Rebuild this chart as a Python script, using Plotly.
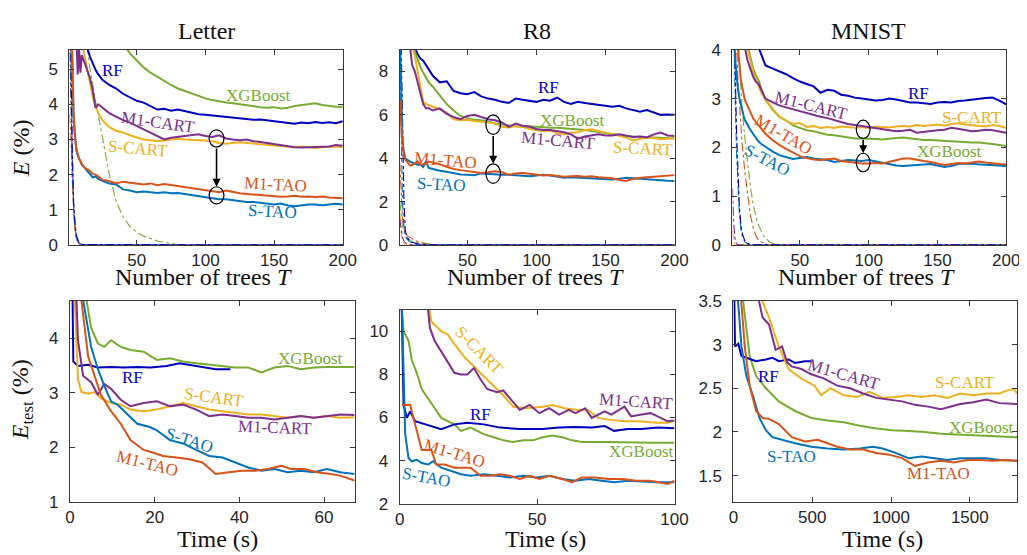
import plotly.graph_objects as go

W, H = 1027, 555

# ---------------- colours ----------------
C_RF, C_XGB, C_SCART, C_M1CART, C_STAO, C_M1TAO = "#0000bf", "#77ac30", "#edb120", "#7e2f8e", "#0072bd", "#d95319"

# ================= TOP ROW: error vs number of trees =================
trees = [1, 2, 3, 4, 5, 6, 7, 8, 9, 10, 12, 14, 16, 18, 20, 22, 25,
         30, 35, 40, 45, 50, 55, 60, 65, 70, 75, 80, 85, 90, 95, 100, 105, 110, 115, 120,
         125, 130, 135, 140, 145, 150, 155, 160, 165, 170, 175, 180, 185, 190, 195, 200]

# ---- Letter (test error) ----
letter_rf = [14, 13, 12, 11, 10.5, 10, 9.5, 9, 8.5, 8, 6.8, 5.6, 5.35, 5.15, 4.98, 4.85, 4.7,
             4.55, 4.45, 4.3, 4.2, 4.1, 4.05, 3.95, 3.85, 3.87, 3.82, 3.85, 3.8, 3.76, 3.72, 3.7, 3.68,
             3.65, 3.63, 3.62, 3.6, 3.58, 3.56, 3.57, 3.55, 3.52, 3.5, 3.47, 3.45, 3.48, 3.46, 3.5, 3.47,
             3.49, 3.46, 3.52]
letter_xgb = [16, 15, 14, 13.5, 13, 12.5, 12, 11.5, 11, 10.5, 10, 9.5, 9, 8.6, 8.2, 7.8, 7.3,
              6.5, 6.1, 5.75, 5.45, 5.25, 5.05, 4.9, 4.78, 4.65, 4.55, 4.45, 4.38, 4.3, 4.22, 4.17, 4.12,
              4.08, 4.05, 4.03, 4.0, 3.97, 3.93, 3.92, 3.9, 3.92, 3.88, 3.9, 3.95, 3.97, 4.0, 4.03, 3.98,
              3.95, 3.93, 3.93]
letter_scart = [14, 12, 11, 10, 9, 8.2, 7.5, 6.8, 6.2, 5.8, 5.4, 5.0, 4.6, 4.2, 3.95, 3.75, 3.55,
                3.35, 3.25, 3.2, 3.12, 3.07, 3.0, 2.98, 2.95, 2.97, 3.0, 3.02, 3.0, 3.0, 2.98, 2.97, 2.95,
                2.9, 2.88, 2.9, 2.92, 2.9, 2.88, 2.87, 2.85, 2.83, 2.82, 2.8, 2.78, 2.8, 2.78, 2.76, 2.78,
                2.8, 2.8, 2.78]
letter_m1cart = [12, 10, 8.5, 7.5, 6.8, 6.0, 4.85, 5.6, 4.9, 5.4, 5.2, 5.0, 4.75, 4.4, 3.9, 4.0, 3.9,
                 3.75, 3.65, 3.55, 3.48, 3.38, 3.3, 3.2, 3.1, 3.0, 3.05, 3.08, 3.1, 3.12, 3.15, 3.1, 3.07,
                 3.12, 3.03, 3.0, 2.98, 3.0, 2.95, 2.93, 2.9, 2.88, 2.85, 2.8, 2.78, 2.77, 2.78, 2.77, 2.78,
                 2.8, 2.84, 2.82]
letter_m1tao = [9, 6.5, 5.6, 3.8, 3.1, 2.75, 2.6, 2.45, 2.4, 2.3, 2.2, 2.15, 2.1, 2.02, 2.0, 1.95, 1.85,
                1.82, 1.75, 1.8, 1.78, 1.75, 1.72, 1.75, 1.7, 1.73, 1.7, 1.68, 1.65, 1.62, 1.6, 1.55, 1.52,
                1.5, 1.55, 1.5, 1.47, 1.45, 1.43, 1.42, 1.4, 1.38, 1.37, 1.38, 1.4, 1.37, 1.38, 1.36, 1.38,
                1.35, 1.33, 1.33]
letter_stao = [10, 7, 5.2, 3.6, 3.0, 2.7, 2.55, 2.45, 2.35, 2.28, 2.2, 2.1, 2.0, 1.92, 1.95, 1.88, 1.82,
               1.75, 1.72, 1.58, 1.55, 1.5, 1.52, 1.5, 1.48, 1.5, 1.47, 1.48, 1.45, 1.42, 1.4, 1.38, 1.35,
               1.3, 1.3, 1.27, 1.25, 1.22, 1.22, 1.2, 1.18, 1.15, 1.18, 1.12, 1.1, 1.13, 1.15, 1.15, 1.13,
               1.15, 1.17, 1.15]
# Letter training error (dash-dot)
letter_tr_T = [1, 2, 3, 4, 5, 6, 7, 8, 10, 12, 200]
letter_tr_rf = [9, 5.5, 2.8, 1.3, 0.6, 0.28, 0.13, 0.06, 0.02, 0.01, 0]
letter_tr_stao = [7, 4.6, 2.4, 1.1, 0.5, 0.22, 0.1, 0.04, 0.01, 0, 0]
letter_tr_m1tao = [3.7, 3.2, 1.9, 0.95, 0.45, 0.2, 0.09, 0.04, 0.01, 0, 0]
letter_tr_m1cart = [6, 4.2, 2.1, 1.0, 0.45, 0.2, 0.08, 0.03, 0.01, 0, 0]
letter_tr_scart = [8, 5, 2.5, 1.15, 0.5, 0.22, 0.1, 0.05, 0.01, 0, 0]
letter_tr_xgb_T = [1, 4, 8, 12, 14, 16, 18, 20, 22, 25, 30, 35, 40, 45, 50, 55, 60, 65, 70, 75, 80, 90, 200]
letter_tr_xgb = [20, 14.5, 9.5, 6.8, 5.6, 5.0, 4.5, 4.1, 3.7, 3.1, 2.0, 1.25, 0.8, 0.52, 0.36, 0.25, 0.17,
                 0.11, 0.07, 0.03, 0.01, 0, 0]

# ---- R8 (test error) ----
r8_rf = [16, 15, 14, 13, 12.5, 12, 11.5, 11, 10.5, 10, 9.1, 8.8, 8.6, 8.5, 8.3, 8.1, 7.8,
         7.5, 7.55, 7.1, 7.0, 6.95, 7.05, 6.85, 6.75, 6.7, 6.6, 6.55, 6.75, 6.7, 6.65, 6.6, 6.7,
         6.65, 6.8, 6.6, 6.5, 6.6, 6.55, 6.5, 6.45, 6.4, 6.38, 6.42, 6.3, 6.22, 6.15, 6.22, 6.1,
         6.0, 6.02, 6.0]
r8_xgb = [16, 15, 14, 13, 12, 11.5, 11, 10.5, 10, 9.3, 8.9, 8.5, 8.2, 7.95, 7.7, 7.5, 7.3,
          6.9, 6.5, 6.2, 5.95, 5.85, 5.77, 5.75, 5.7, 5.6, 5.55, 5.5, 5.48, 5.45, 5.48, 5.45, 5.42,
          5.4, 5.4, 5.38, 5.35, 5.33, 5.3, 5.25, 5.2, 5.15, 5.1, 5.05, 5.03, 5.0, 5.0, 4.98, 4.96,
          4.95, 4.93, 4.91]
r8_scart = [14, 13, 12.5, 12, 11.5, 11, 10.5, 10, 9.6, 9.2, 8.7, 8.0, 7.3, 6.6, 6.5, 6.45, 6.4,
            6.25, 6.1, 5.8, 5.75, 5.77, 5.72, 5.7, 5.65, 5.6, 5.45, 5.42, 5.48, 5.45, 5.35, 5.3, 5.25,
            5.28, 5.15, 5.1, 5.18, 5.2, 5.3, 5.33, 5.25, 5.18, 5.1, 5.03, 4.95, 4.82, 4.9, 4.96, 4.92,
            4.88, 4.9, 4.96]
r8_m1cart = [14, 13, 12, 11.5, 11, 10.5, 10, 9.4, 8.8, 8.3, 8.0, 7.5, 7.0, 6.5, 6.3, 6.3, 6.2,
             6.3, 6.05, 5.9, 5.8, 5.95, 6.0, 5.9, 5.8, 5.75, 5.65, 5.45, 5.6, 5.5, 5.45, 5.35, 5.3,
             5.3, 5.25, 5.2, 5.1, 4.9, 5.0, 5.05, 5.1, 5.05, 5.05, 5.1, 5.05, 4.98, 5.0, 4.96, 5.1,
             5.18, 5.05, 5.03]
r8_m1tao = [6.7, 5.5, 4.6, 4.2, 3.95, 3.85, 3.75, 3.7, 3.65, 3.7, 3.75, 3.85, 3.7, 3.72, 3.75, 3.85, 3.8,
            3.72, 3.6, 3.5, 3.45, 3.4, 3.38, 3.32, 3.35, 3.4, 3.35, 3.24, 3.3, 3.32, 3.28, 3.24, 3.2,
            3.22, 3.17, 3.15, 3.17, 3.18, 3.15, 3.17, 3.12, 3.1, 3.08, 3.0, 2.95, 3.05, 3.1, 3.12, 3.15,
            3.17, 3.2, 3.22]
r8_stao = [10, 7, 4.8, 4.3, 4.0, 3.95, 3.9, 3.85, 3.82, 3.8, 3.75, 3.7, 3.7, 3.6, 3.85, 3.55, 3.5,
           3.42, 3.38, 3.3, 3.25, 3.24, 3.22, 3.3, 3.28, 3.24, 3.24, 3.24, 3.22, 3.2, 3.17, 3.2, 3.24,
           3.2, 3.15, 3.1, 3.12, 3.1, 3.1, 3.08, 3.05, 3.04, 3.02, 3.05, 3.1, 3.08, 3.05, 3.02, 3.0,
           2.98, 2.96, 2.95]
r8_tr_T = [1, 2, 3, 4, 5, 6, 8, 10, 14, 18, 22, 26, 30, 200]
r8_tr_rf = [10, 9.5, 6.0, 2.2, 0.7, 0.4, 0.2, 0.12, 0.05, 0.02, 0.01, 0, 0, 0]
r8_tr_stao = [9.5, 5.0, 2.0, 0.9, 0.45, 0.3, 0.15, 0.08, 0.02, 0, 0, 0, 0, 0]
r8_tr_m1tao = [3.8, 2.4, 1.3, 0.8, 0.55, 0.45, 0.35, 0.28, 0.15, 0.08, 0.03, 0.01, 0, 0]
r8_tr_xgb = [2.0, 1.3, 0.9, 0.6, 0.45, 0.35, 0.22, 0.16, 0.1, 0.06, 0.03, 0.01, 0, 0]
r8_tr_m1cart = [1.2, 0.7, 0.35, 0.18, 0.08, 0.04, 0.01, 0, 0, 0, 0, 0, 0, 0]
r8_tr_scart = [1.5, 0.6, 0.2, 0.08, 0.03, 0.01, 0, 0, 0, 0, 0, 0, 0, 0]

# ---- MNIST (test error) ----
mn_rf = [14, 12, 11, 10, 9, 8.2, 7.6, 7, 6.5, 6.1, 5.5, 5.0, 4.6, 4.3, 4.05, 3.9, 3.68,
         3.62, 3.56, 3.5, 3.42, 3.35, 3.3, 3.25, 3.12, 3.18, 3.16, 3.08, 3.06, 3.02, 3.0, 2.98, 2.96,
         2.97, 3.0, 2.98, 2.95, 2.92, 2.92, 2.9, 2.89, 2.92, 2.93, 2.92, 2.95, 2.96, 2.98, 2.99, 3.01,
         3.02, 2.96, 2.88]
mn_m1cart = [10, 9, 8, 7, 6.3, 5.7, 5.2, 4.8, 4.4, 4.05, 3.78, 3.6, 3.45, 3.35, 3.3, 3.18, 3.0,
             2.93, 2.86, 2.82, 2.78, 2.75, 2.7, 2.66, 2.63, 2.6, 2.56, 2.52, 2.48, 2.46, 2.44, 2.42, 2.4,
             2.38, 2.36, 2.33, 2.34, 2.36, 2.3, 2.32, 2.33, 2.35, 2.36, 2.4, 2.38, 2.35, 2.33, 2.34, 2.36,
             2.35, 2.32, 2.3]
mn_scart = [10, 9, 8, 7.2, 6.5, 5.9, 5.4, 5.0, 4.6, 4.3, 4.0, 3.75, 3.55, 3.4, 3.25, 3.12, 2.98,
            2.8, 2.63, 2.55, 2.48, 2.5, 2.42, 2.44, 2.4, 2.42, 2.4, 2.43, 2.41, 2.4, 2.42, 2.4, 2.43,
            2.42, 2.41, 2.43, 2.44, 2.43, 2.46, 2.44, 2.46, 2.47, 2.45, 2.48, 2.5, 2.47, 2.46, 2.44, 2.43,
            2.46, 2.44, 2.4]
mn_xgb = [12, 10, 9, 8, 7.2, 6.5, 5.9, 5.4, 5.0, 4.6, 4.1, 3.85, 3.62, 3.48, 3.38, 3.2, 2.98,
          2.78, 2.63, 2.55, 2.45, 2.4, 2.35, 2.33, 2.3, 2.26, 2.25, 2.23, 2.2, 2.18, 2.18, 2.18, 2.17,
          2.16, 2.18, 2.19, 2.2, 2.18, 2.17, 2.15, 2.15, 2.14, 2.13, 2.13, 2.12, 2.11, 2.1, 2.1, 2.09,
          2.07, 2.05, 2.03]
mn_m1tao = [9, 6.5, 5, 4.3, 3.95, 3.65, 3.42, 3.25, 3.1, 2.98, 2.85, 2.72, 2.6, 2.52, 2.45, 2.38, 2.28,
            2.15, 2.05, 1.97, 1.9, 1.82, 1.78, 1.75, 1.74, 1.76, 1.77, 1.72, 1.7, 1.69, 1.67, 1.67, 1.68,
            1.67, 1.7, 1.74, 1.77, 1.77, 1.74, 1.72, 1.7, 1.67, 1.64, 1.66, 1.68, 1.67, 1.69, 1.71, 1.69,
            1.67, 1.66, 1.65]
mn_stao = [7, 4.5, 3.8, 3.45, 3.2, 3.02, 2.88, 2.76, 2.66, 2.56, 2.45, 2.36, 2.28, 2.2, 2.12, 2.07, 2.01,
           1.92, 1.84, 1.8, 1.76, 1.78, 1.8, 1.77, 1.76, 1.74, 1.7, 1.72, 1.74, 1.73, 1.72, 1.74, 1.71,
           1.68, 1.65, 1.63, 1.62, 1.63, 1.64, 1.65, 1.66, 1.63, 1.6, 1.62, 1.66, 1.67, 1.66, 1.66, 1.65,
           1.64, 1.63, 1.62]
mn_tr_T = [1, 2, 3, 4, 5, 6, 7, 8, 10, 12, 14, 16, 18, 20, 24, 28, 32, 36, 200]
mn_tr_rf = [8, 5.5, 3.6, 2.3, 1.4, 0.8, 0.45, 0.25, 0.08, 0.03, 0.01, 0, 0, 0, 0, 0, 0, 0, 0]
mn_tr_stao = [6, 4.3, 3.0, 1.9, 1.15, 0.65, 0.35, 0.2, 0.06, 0.02, 0, 0, 0, 0, 0, 0, 0, 0, 0]
mn_tr_m1tao = [8, 6.5, 5.2, 4.1, 3.4, 2.9, 2.45, 2.1, 1.5, 1.0, 0.62, 0.36, 0.19, 0.1, 0.03, 0, 0, 0, 0]
mn_tr_xgb = [10, 8, 6.5, 5.2, 4.4, 3.8, 3.25, 2.8, 2.2, 1.65, 1.2, 0.85, 0.58, 0.4, 0.17, 0.06, 0.02, 0, 0]
mn_tr_m1cart = [1.15, 0.4, 0.1, 0.02, 0, 0, 0, 0, 0, 0, 0, 0, 0, 0, 0, 0, 0, 0, 0]
mn_tr_scart = [0.3, 0.05, 0, 0, 0, 0, 0, 0, 0, 0, 0, 0, 0, 0, 0, 0, 0, 0, 0]

# ================= BOTTOM ROW: test error vs time =================
# Letter
lt_xgb_t = [3, 3.9, 5, 6.6, 8.1, 9.7, 12, 14.3, 17.4, 20.5, 23.6, 26.7, 29.8, 32.9, 36, 39, 42.1, 45.2, 48.3, 51.4, 54.5, 57.6, 60.7, 63.8, 67.2]
lt_xgb_e = [6, 4.7, 4.19, 3.9, 3.84, 3.96, 3.84, 3.78, 3.75, 3.6, 3.63, 3.57, 3.54, 3.51, 3.49, 3.46, 3.46, 3.37, 3.46, 3.49, 3.43, 3.46, 3.47, 3.47, 3.47]
lt_rf_t = [0.5, 0.8, 1.9, 4.3, 6.6, 9.7, 12.8, 15.9, 19, 22.8, 25.9, 28.2, 31.3, 34.4, 37.9]
lt_rf_e = [5.5, 3.57, 3.49, 3.51, 3.46, 3.47, 3.46, 3.47, 3.46, 3.49, 3.54, 3.51, 3.46, 3.43, 3.43]
lt_scart_t = [1.0, 1.9, 2.7, 4.3, 5.8, 7.3, 9.7, 12, 14.3, 17.4, 20.5, 23.6, 26.7, 29.8, 32.9, 36, 39, 42.1, 45.2, 48.3, 51.4, 54.5, 57.6, 60.7, 63.8, 67.2]
lt_scart_e = [5.0, 3.25, 3.01, 2.98, 3.01, 2.9, 2.81, 2.78, 2.69, 2.66, 2.69, 2.75, 2.81, 2.75, 2.69, 2.66, 2.63, 2.6, 2.6, 2.57, 2.54, 2.57, 2.54, 2.57, 2.54, 2.55]
lt_m1cart_t = [1.4, 1.9, 3.1, 5, 6.6, 8.1, 9.7, 12, 14.3, 17.4, 20.5, 23.6, 26.7, 29.8, 32.9, 36, 39, 42.1, 45.2, 48.3, 51.4, 54.5, 57.6, 60.7, 63.8, 67.2]
lt_m1cart_e = [5.0, 3.96, 3.31, 3.19, 2.96, 3.16, 3.07, 2.87, 2.75, 2.81, 2.84, 2.75, 2.78, 2.69, 2.57, 2.6, 2.57, 2.54, 2.54, 2.51, 2.54, 2.57, 2.54, 2.57, 2.6, 2.59]
lt_stao_t = [2.8, 3.1, 5, 6.6, 8.1, 9.7, 11.2, 12.8, 14.3, 15.9, 18.9, 20.5, 23.6, 26.7, 29.8, 32.9, 36, 39, 42.1, 45.2, 48.3, 51.4, 54.5, 57.6, 60.7, 63.8, 67.2]
lt_stao_e = [5.0, 4.7, 3.84, 3.43, 3.13, 2.84, 2.78, 2.66, 2.54, 2.43, 2.37, 2.31, 2.13, 2.07, 1.95, 1.84, 1.81, 1.72, 1.63, 1.57, 1.6, 1.54, 1.57, 1.54, 1.6, 1.54, 1.51]
lt_m1tao_t = [2.4, 2.7, 4.3, 5.8, 7.3, 9.7, 12, 14.3, 17.4, 19.7, 22, 25.1, 28.2, 31.3, 34.4, 37.5, 40.6, 43.7, 46.8, 49.9, 52.2, 55.3, 58.4, 61.5, 63.8, 67.2]
lt_m1tao_e = [5.0, 4.7, 3.66, 3.31, 2.96, 2.66, 2.43, 2.13, 1.95, 1.9, 1.84, 1.81, 1.78, 1.72, 1.51, 1.54, 1.57, 1.57, 1.6, 1.66, 1.6, 1.6, 1.54, 1.51, 1.48, 1.39]

# R8
rt_xgb_t = [0.2, 1.4, 3.2, 4.4, 6.2, 8, 10.4, 12.7, 15.1, 17.5, 19.9, 22.3, 25.8, 28.2, 30.6, 34.2, 37.7, 41.3, 44.9, 48.5, 52, 55.6, 59.2, 62.7, 66.3, 75.8, 85, 92, 100]
rt_xgb_e = [12, 10.0, 9.56, 8.66, 8.07, 7.32, 6.87, 6.43, 5.98, 5.83, 5.68, 5.38, 5.53, 5.38, 5.23, 5.08, 4.94, 4.86, 4.94, 4.94, 5.08, 5.16, 5.08, 4.94, 4.86, 4.86, 4.83, 4.83, 4.83]
rt_rf_t = [0.6, 1.4, 2.6, 3.8, 5.6, 9.2, 11.5, 15.1, 19.9, 24.6, 30.6, 36.5, 43.7, 52, 58, 64, 70, 74.6, 78, 83, 88, 94, 100]
rt_rf_e = [12, 6.58, 5.98, 6.28, 5.83, 5.68, 5.6, 5.46, 5.68, 5.76, 5.68, 5.53, 5.46, 5.46, 5.53, 5.56, 5.53, 5.6, 5.38, 5.46, 5.46, 5.53, 5.5]
rt_scart_t = [9.5, 11.5, 15.1, 17.5, 19.9, 23.5, 27, 30.6, 34.2, 37.7, 41.3, 46, 52, 55.6, 60, 65.1, 68.5, 72.3, 76, 81.8, 87, 93.7, 97.3, 100]
rt_scart_e = [12, 10.45, 10.0, 9.85, 9.4, 8.81, 8.36, 7.92, 7.47, 7.02, 6.5, 6.43, 6.5, 6.58, 6.43, 6.35, 6.35, 5.98, 5.9, 5.83, 5.83, 5.76, 5.76, 5.83]
rt_m1cart_t = [9.5, 11, 12.7, 16.3, 19.9, 22.3, 24.6, 27, 29.4, 31.8, 35.4, 37.7, 40.1, 43.7, 47.3, 50.8, 54.4, 58, 61.5, 64, 67.5, 69.9, 74.6, 77, 81.8, 84.2, 87.5, 91.3, 95, 97.4, 100]
rt_m1cart_e = [12, 10.15, 9.56, 8.81, 8.07, 7.99, 7.99, 8.29, 7.77, 7.32, 7.17, 7.25, 6.87, 6.35, 6.58, 6.2, 6.43, 6.13, 6.35, 6.2, 6.43, 5.98, 6.28, 6.13, 6.5, 6.05, 6.13, 6.2, 5.98, 5.83, 5.86]
rt_m1tao_t = [0.8, 3.8, 5.6, 8, 11.5, 13.3, 16.3, 19.9, 25.8, 29.4, 32.9, 36.5, 40.1, 43.7, 47.3, 50.8, 54.4, 59.2, 62.7, 66.3, 71, 76, 81, 86, 91, 95, 97.6, 100]
rt_m1tao_e = [6.58, 6.58, 5.68, 4.49, 4.49, 3.82, 3.82, 3.67, 3.67, 3.3, 3.3, 3.37, 3.3, 3.15, 3.3, 3.15, 3.3, 3.15, 3.0, 3.22, 3.22, 3.15, 3.15, 3.07, 3.07, 3.0, 2.92, 3.07]
rt_stao_t = [0.6, 2, 3.2, 4.4, 6.2, 8, 10.4, 12.1, 15.1, 18.7, 22.3, 25.8, 30.6, 35.4, 40.1, 44.9, 49.6, 54.4, 59.2, 63.9, 68.7, 73.5, 78.2, 83, 87.7, 93.7, 100]
rt_stao_e = [12, 5.23, 4.12, 3.97, 4.04, 3.89, 3.82, 3.97, 3.67, 3.52, 3.37, 3.3, 3.37, 3.3, 3.22, 3.3, 3.22, 3.3, 3.15, 3.07, 3.15, 3.07, 3.0, 3.07, 3.03, 3.0, 3.0]

# MNIST
mt_rf_t = [5, 10, 31, 51, 82, 144, 206, 247, 288, 350, 391, 453, 494]
mt_rf_e = [3.6, 2.98, 3.01, 2.87, 2.85, 2.81, 2.83, 2.85, 2.81, 2.83, 2.79, 2.81, 2.81]
mt_m1cart_t = [150, 185, 226, 268, 309, 340, 370, 432, 494, 576, 659, 741, 823, 906, 988, 1070, 1152, 1235, 1317, 1379, 1440, 1523, 1605, 1688, 1800]
mt_m1cart_e = [3.6, 3.31, 3.23, 2.94, 2.98, 2.8, 2.75, 2.72, 2.66, 2.61, 2.53, 2.5, 2.44, 2.39, 2.37, 2.35, 2.31, 2.29, 2.26, 2.29, 2.32, 2.34, 2.37, 2.33, 2.32]
mt_scart_t = [160, 226, 288, 350, 432, 515, 556, 617, 700, 782, 864, 947, 1029, 1111, 1194, 1276, 1358, 1440, 1523, 1605, 1688, 1729, 1780, 1800]
mt_scart_e = [3.6, 3.31, 2.98, 2.72, 2.61, 2.53, 2.42, 2.5, 2.42, 2.4, 2.46, 2.39, 2.4, 2.42, 2.4, 2.42, 2.39, 2.44, 2.42, 2.44, 2.44, 2.47, 2.49, 2.44]
mt_xgb_t = [55, 82, 103, 144, 206, 288, 391, 494, 597, 700, 803, 906, 1008, 1111, 1214, 1317, 1420, 1523, 1626, 1729, 1800]
mt_xgb_e = [3.6, 3.16, 2.87, 2.64, 2.5, 2.35, 2.24, 2.16, 2.13, 2.11, 2.07, 2.04, 2.02, 2.01, 2.0, 1.98, 1.97, 1.96, 1.95, 1.94, 1.94]
mt_stao_t = [25, 51, 82, 123, 165, 206, 247, 309, 391, 494, 597, 700, 803, 885, 947, 1029, 1111, 1194, 1276, 1358, 1440, 1523, 1605, 1688, 1800]
mt_stao_e = [3.6, 2.98, 2.64, 2.42, 2.16, 2.02, 1.94, 1.91, 1.87, 1.83, 1.81, 1.8, 1.81, 1.83, 1.81, 1.76, 1.7, 1.72, 1.7, 1.68, 1.7, 1.7, 1.7, 1.68, 1.67]
mt_m1tao_t = [45, 72, 103, 144, 185, 226, 288, 370, 453, 535, 597, 659, 741, 823, 906, 988, 1070, 1152, 1235, 1317, 1399, 1482, 1564, 1646, 1729, 1800]
mt_m1tao_e = [3.6, 2.98, 2.53, 2.24, 2.16, 2.15, 2.09, 1.94, 1.89, 1.91, 1.87, 1.83, 1.8, 1.8, 1.76, 1.74, 1.7, 1.61, 1.65, 1.67, 1.65, 1.68, 1.68, 1.67, 1.68, 1.67]

# ---- text labels per panel: (text, x, y, colour, angle) ----
labels = {
    1: [("RF", 32, 4.97, C_RF, 0), ("XGBoost", 138.5, 4.25, C_XGB, 0), ("M1-CART", 65.6, 3.48, C_M1CART, 8),
        ("S-CART", 50.6, 2.73, C_SCART, 5), ("M1-TAO", 151, 1.71, C_M1TAO, 3), ("S-TAO", 149, 0.94, C_STAO, 3)],
    2: [("RF", 109, 7.28, C_RF, 0), ("XGBoost", 126, 5.76, C_XGB, 0), ("M1-CART", 115.4, 4.82, C_M1CART, 5),
        ("S-CART", 177, 4.46, C_SCART, 3), ("M1-TAO", 34.4, 3.88, C_M1TAO, 5), ("S-TAO", 31.6, 2.81, C_STAO, 3)],
    3: [("RF", 136.5, 3.11, C_RF, 0), ("M1-CART", 58, 2.85, C_M1CART, 14), ("S-CART", 175, 2.61, C_SCART, 0),
        ("M1-TAO", 38, 2.26, C_M1TAO, 30), ("XGBoost", 159, 1.92, C_XGB, 0), ("S-TAO", 26.7, 1.74, C_STAO, 28)],
    4: [("XGBoost", 56.9, 3.63, C_XGB, 0), ("RF", 14.8, 3.28, C_RF, 0), ("S-CART", 34.1, 2.91, C_SCART, 8),
        ("M1-CART", 48.3, 2.37, C_M1CART, 2), ("S-TAO", 28.3, 2.12, C_STAO, 18), ("M1-TAO", 18.3, 1.71, C_M1TAO, 14)],
    5: [("S-CART", 28.9, 9.1, C_SCART, 45), ("M1-CART", 86.1, 6.72, C_M1CART, 4), ("RF", 29.5, 6.15, C_RF, 0),
        ("XGBoost", 87.9, 4.41, C_XGB, 0), ("M1-TAO", 20, 4.33, C_M1TAO, 17), ("S-TAO", 9.9, 3.22, C_STAO, 10)],
    6: [("RF", 224, 2.64, C_RF, 0), ("M1-CART", 701, 2.66, C_M1CART, 16), ("S-CART", 1469, 2.57, C_SCART, 0),
        ("XGBoost", 1572, 2.05, C_XGB, 0), ("S-TAO", 369, 1.72, C_STAO, 0), ("M1-TAO", 1302, 1.52, C_M1TAO, 0)],
}

# ellipse markers (panel, T centre, upper E, lower E, half-width T, half-height E)
ellipses = [(1, 108.1, 3.03, 1.41, 5.4, 0.245), (2, 68.7, 5.55, 3.29, 5.3, 0.45), (3, 96, 2.37, 1.69, 5.0, 0.19)]

# ================= figure =================
series_top = {
    1: (trees, [(letter_xgb, C_XGB), (letter_rf, C_RF), (letter_scart, C_SCART), (letter_m1cart, C_M1CART),
                (letter_stao, C_STAO), (letter_m1tao, C_M1TAO)]),
    2: (trees, [(r8_rf, C_RF), (r8_xgb, C_XGB), (r8_scart, C_SCART), (r8_m1cart, C_M1CART),
                (r8_stao, C_STAO), (r8_m1tao, C_M1TAO)]),
    3: (trees, [(mn_rf, C_RF), (mn_xgb, C_XGB), (mn_scart, C_SCART), (mn_m1cart, C_M1CART),
                (mn_stao, C_STAO), (mn_m1tao, C_M1TAO)]),
}
train_top = {
    1: [(letter_tr_xgb_T, letter_tr_xgb, C_XGB), (letter_tr_T, letter_tr_scart, C_SCART),
        (letter_tr_T, letter_tr_m1cart, C_M1CART), (letter_tr_T, letter_tr_m1tao, C_M1TAO),
        (letter_tr_T, letter_tr_stao, C_STAO), (letter_tr_T, letter_tr_rf, C_RF)],
    2: [(r8_tr_T, r8_tr_scart, C_SCART), (r8_tr_T, r8_tr_m1cart, C_M1CART), (r8_tr_T, r8_tr_xgb, C_XGB),
        (r8_tr_T, r8_tr_m1tao, C_M1TAO), (r8_tr_T, r8_tr_stao, C_STAO), (r8_tr_T, r8_tr_rf, C_RF)],
    3: [(mn_tr_T, mn_tr_scart, C_SCART), (mn_tr_T, mn_tr_m1cart, C_M1CART), (mn_tr_T, mn_tr_xgb, C_XGB),
        (mn_tr_T, mn_tr_m1tao, C_M1TAO), (mn_tr_T, mn_tr_stao, C_STAO), (mn_tr_T, mn_tr_rf, C_RF)],
}
series_bottom = {
    4: [(lt_xgb_t, lt_xgb_e, C_XGB), (lt_rf_t, lt_rf_e, C_RF), (lt_scart_t, lt_scart_e, C_SCART),
        (lt_m1cart_t, lt_m1cart_e, C_M1CART), (lt_stao_t, lt_stao_e, C_STAO), (lt_m1tao_t, lt_m1tao_e, C_M1TAO)],
    5: [(rt_xgb_t, rt_xgb_e, C_XGB), (rt_rf_t, rt_rf_e, C_RF), (rt_scart_t, rt_scart_e, C_SCART),
        (rt_m1cart_t, rt_m1cart_e, C_M1CART), (rt_stao_t, rt_stao_e, C_STAO), (rt_m1tao_t, rt_m1tao_e, C_M1TAO)],
    6: [(mt_xgb_t, mt_xgb_e, C_XGB), (mt_rf_t, mt_rf_e, C_RF), (mt_scart_t, mt_scart_e, C_SCART),
        (mt_m1cart_t, mt_m1cart_e, C_M1CART), (mt_stao_t, mt_stao_e, C_STAO), (mt_m1tao_t, mt_m1tao_e, C_M1TAO)],
}

for p, (xs, lst) in series_top.items():
    for ys, c in lst:
        assert len(ys) == len(xs), (p, c, len(ys))
for p, lst in train_top.items():
    for xs, ys, c in lst:
        assert len(xs) == len(ys), (p, c)
for p, lst in series_bottom.items():
    for xs, ys, c in lst:
        assert len(xs) == len(ys), (p, c, len(xs), len(ys))

# panel geometry in pixels: (left, right, top, bottom)
geom = {1: (57.5, 336, 34, 236), 2: (394, 674, 34, 236), 3: (733, 1012, 34, 236),
        4: (58, 348, 294, 502), 5: (394, 674, 303, 504), 6: (734, 1023, 294, 502)}
xranges = {1: [1, 200], 2: [1, 200], 3: [1, 200], 4: [0, 67.2], 5: [0, 100], 6: [0, 1800]}
yranges = {1: [0, 5.55], 2: [0, 9], 3: [0, 4], 4: [1, 4.68], 5: [2, 11], 6: [1.2, 3.5]}
xticks = {1: [50, 100, 150, 200], 2: [50, 100, 150, 200], 3: [50, 100, 150, 200],
          4: [0, 20, 40, 60], 5: [0, 50, 100], 6: [0, 500, 1000, 1500]}
yticks = {1: [0, 1, 2, 3, 4, 5], 2: [0, 2, 4, 6, 8], 3: [0, 1, 2, 3, 4],
          4: [1, 2, 3, 4], 5: [2, 4, 6, 8, 10], 6: [1.5, 2, 2.5, 3, 3.5]}


def fmt(v):
    return str(int(v)) if float(v).is_integer() else str(v)


fig = go.Figure()


def ax(p):
    return ("x" if p == 1 else f"x{p}"), ("y" if p == 1 else f"y{p}")


def add(p, x, y, color, width=2.0, dash=None):
    xa, ya = ax(p)
    fig.add_trace(go.Scatter(x=x, y=y, mode="lines", xaxis=xa, yaxis=ya, showlegend=False,
                             hoverinfo="skip", line=dict(color=color, width=width, dash=dash)))


for p, lst in train_top.items():
    for xs, ys, c in lst:
        add(p, xs, ys, c, width=1.1, dash="dashdot")
for p, (xs, lst) in series_top.items():
    for ys, c in lst:
        add(p, xs, ys, c)
for p, lst in series_bottom.items():
    for xs, ys, c in lst:
        add(p, xs, ys, c)

AX_COL = "#3a3a3a"
layout = dict(width=W, height=H, margin=dict(l=0, r=0, t=0, b=0), paper_bgcolor="white",
              plot_bgcolor="white", showlegend=False)
for p, (l, r, t, b) in geom.items():
    xa, ya = ax(p)
    common = dict(showline=True, mirror="ticks", linecolor=AX_COL, linewidth=1, ticks="inside",
                  ticklen=5, tickcolor=AX_COL, showgrid=False, zeroline=False,
                  tickfont=dict(family="Liberation Sans, Arial", size=17, color="#262626"))
    layout["xaxis" if p == 1 else f"xaxis{p}"] = dict(
        domain=[l / W, r / W], range=xranges[p], tickmode="array", tickvals=xticks[p],
        ticktext=[fmt(v) for v in xticks[p]], anchor=ya, **common)
    layout["yaxis" if p == 1 else f"yaxis{p}"] = dict(
        domain=[1 - b / H, 1 - t / H], range=yranges[p], tickmode="array", tickvals=yticks[p],
        ticktext=[fmt(v) for v in yticks[p]], anchor=xa, ticklabelstandoff=7, **common)
fig.update_layout(**layout)

SERIF = "Liberation Serif, Times New Roman, serif"
ann = []
for p, lst in labels.items():
    xa, ya = ax(p)
    for txt, x, y, c, a in lst:
        ann.append(dict(x=x, y=y, xref=xa, yref=ya, text=txt, showarrow=False, textangle=a,
                        font=dict(family=SERIF, size=17, color=c), xanchor="center", yanchor="middle"))

shapes = []
for p, xc, yu, yl, hw, hh in ellipses:
    xa, ya = ax(p)
    for yc in (yu, yl):
        shapes.append(dict(type="circle", xref=xa, yref=ya, x0=xc - hw, x1=xc + hw, y0=yc - hh, y1=yc + hh,
                           line=dict(color="black", width=1.2)))
    ann.append(dict(x=xc, y=yl + hh, ax=xc, ay=yu - hh, xref=xa, yref=ya, axref=xa, ayref=ya, text="",
                    showarrow=True, arrowhead=2, arrowsize=1, arrowwidth=1.6, arrowcolor="black", standoff=0,
                    startstandoff=0))


def paper_text(txt, px, py, size, angle=0):
    ann.append(dict(x=px / W, y=1 - py / H, xref="paper", yref="paper", text=txt, showarrow=False,
                    textangle=angle, font=dict(family=SERIF, size=size, color="#111111"),
                    xanchor="center", yanchor="middle"))


for txt, px in (("Letter", 197), ("R8", 534), ("MNIST", 872)):
    paper_text(txt, px, 14, 24)
for px in (194, 532, 870):
    paper_text("Number of trees <i>T</i>", px, 269, 24)
for px in (208, 543, 886):
    paper_text("Time (s)", px, 540, 24)
paper_text("<i>E</i> (%)", 9, 136, 24, -90)
paper_text("<i>E</i><sub>test</sub> (%)", 10, 396, 24, -90)

fig.update_layout(annotations=ann, shapes=shapes)
fig.write_html("out.html")
